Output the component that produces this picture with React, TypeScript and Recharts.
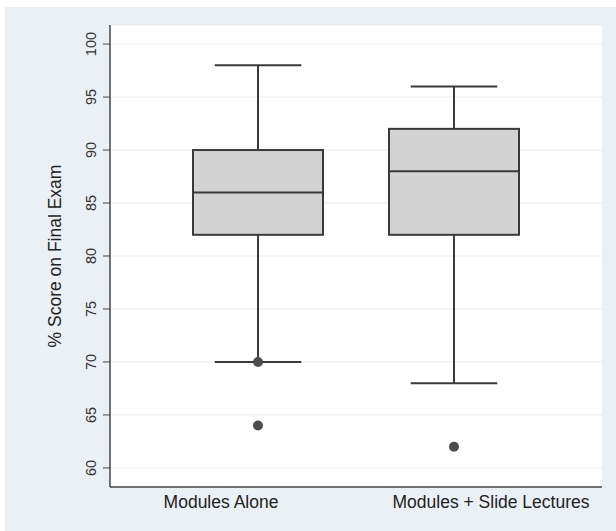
import React from 'react';
import { ComposedChart, Bar, Scatter, XAxis, YAxis, CartesianGrid } from 'recharts';

const categories = ['Modules Alone', 'Modules + Slide Lectures'];
const whiskerLow = [70, 68];
const q1Values = [82, 82];
const medianValues = [86, 88];
const q3Values = [90, 92];
const whiskerHigh = [98, 96];
const outlierFirst = [70, 62];
const outlierSecond: (number | null)[] = [64, null];
const yTicks = [60, 65, 70, 75, 80, 85, 90, 95, 100];
const labelShift = [-37, 37];

const data = categories.map((name, i) => ({
  name,
  min: whiskerLow[i],
  q1: q1Values[i],
  median: medianValues[i],
  q3: q3Values[i],
  max: whiskerHigh[i],
  out0: outlierFirst[i],
  out1: outlierSecond[i],
}));

const FONT = '"Liberation Sans", Arial, Helvetica, sans-serif';
const LINE = '#3a3a3a';

const BoxShape = (props: any) => {
  const { x, y, width, height, payload } = props;
  if (!payload || height == null) return null;
  const { min, q1, median, q3, max } = payload;
  const py = (v: number) => y + ((max - v) / (max - min)) * height;
  const cx = x + width / 2;
  const capHalf = width * 0.333;
  return (
    <g>
      <line x1={cx} x2={cx} y1={py(max)} y2={py(q3)} stroke={LINE} strokeWidth={2} />
      <line x1={cx} x2={cx} y1={py(q1)} y2={py(min)} stroke={LINE} strokeWidth={2} />
      <line x1={cx - capHalf} x2={cx + capHalf} y1={py(max)} y2={py(max)} stroke={LINE} strokeWidth={2} />
      <line x1={cx - capHalf} x2={cx + capHalf} y1={py(min)} y2={py(min)} stroke={LINE} strokeWidth={2} />
      <rect x={x} y={py(q3)} width={width} height={py(q1) - py(q3)} fill="#d3d3d3" stroke={LINE} strokeWidth={2} />
      <line x1={x} x2={x + width} y1={py(median)} y2={py(median)} stroke={LINE} strokeWidth={2} />
    </g>
  );
};

const makeDot = (key: string) => (props: any) => {
  const { cx, cy, payload } = props;
  if (!payload || payload[key] == null || cx == null || cy == null || isNaN(cy)) return <g />;
  return <circle cx={cx} cy={cy} r={5} fill="#4d4d4d" />;
};

const YTick = (props: any) => {
  const { x, y, payload } = props;
  return (
    <text
      transform={`translate(${x - 10},${y}) rotate(-90)`}
      textAnchor="middle"
      dominantBaseline="central"
      fontSize={14.5}
      fontFamily={FONT}
      fill="#333"
    >
      {payload.value}
    </text>
  );
};

const XTick = (props: any) => {
  const { x, y, payload, index } = props;
  return (
    <text
      x={x + (labelShift[index] ?? 0)}
      y={y}
      dy={13}
      textAnchor="middle"
      fontSize={17.5}
      fontFamily={FONT}
      fill="#222"
    >
      {payload.value}
    </text>
  );
};

const YLabel = (props: any) => {
  const { viewBox } = props;
  const cx = 55;
  const cy = viewBox.y + viewBox.height / 2;
  return (
    <text
      transform={`translate(${cx},${cy}) rotate(-90)`}
      textAnchor="middle"
      dominantBaseline="central"
      fontSize={17.5}
      fontFamily={FONT}
      fill="#222"
    >
      % Score on Final Exam
    </text>
  );
};

export default function App() {
  return (
    <div style={{ position: 'absolute', left: 0, top: 0, width: 616, height: 531, background: '#ffffff' }}>
      <div style={{ position: 'absolute', left: 5, top: 7, width: 611, height: 524, background: '#eaf0f3' }} />
      <div style={{ position: 'absolute', left: 110, top: 25, width: 492, height: 462, background: '#ffffff' }} />
      <div style={{ position: 'absolute', left: 0, top: 0 }}>
        <ComposedChart
          width={616}
          height={531}
          data={data}
          margin={{ top: 25, right: 14, bottom: 0, left: 50 }}
        >
          <CartesianGrid vertical={false} stroke="#ececec" strokeWidth={1} />
          <XAxis
            dataKey="name"
            type="category"
            padding={{ left: 50, right: 50 }}
            height={44}
            tickLine={false}
            axisLine={{ stroke: '#444', strokeWidth: 1.5 }}
            tick={<XTick />}
            interval={0}
          />
          <YAxis
            type="number"
            domain={[58.2, 101.8]}
            ticks={yTicks}
            allowDataOverflow
            width={60}
            tickSize={7}
            tickLine={{ stroke: '#444' }}
            axisLine={{ stroke: '#444', strokeWidth: 1.5 }}
            tick={<YTick />}
            label={{ content: <YLabel /> }}
            interval={0}
          />
          <Bar
            dataKey={(d: any) => [d.min, d.max]}
            barSize={130}
            shape={<BoxShape />}
            isAnimationActive={false}
          />
          <Scatter dataKey="out0" shape={makeDot('out0')} isAnimationActive={false} />
          <Scatter dataKey="out1" shape={makeDot('out1')} isAnimationActive={false} />
        </ComposedChart>
      </div>
    </div>
  );
}
